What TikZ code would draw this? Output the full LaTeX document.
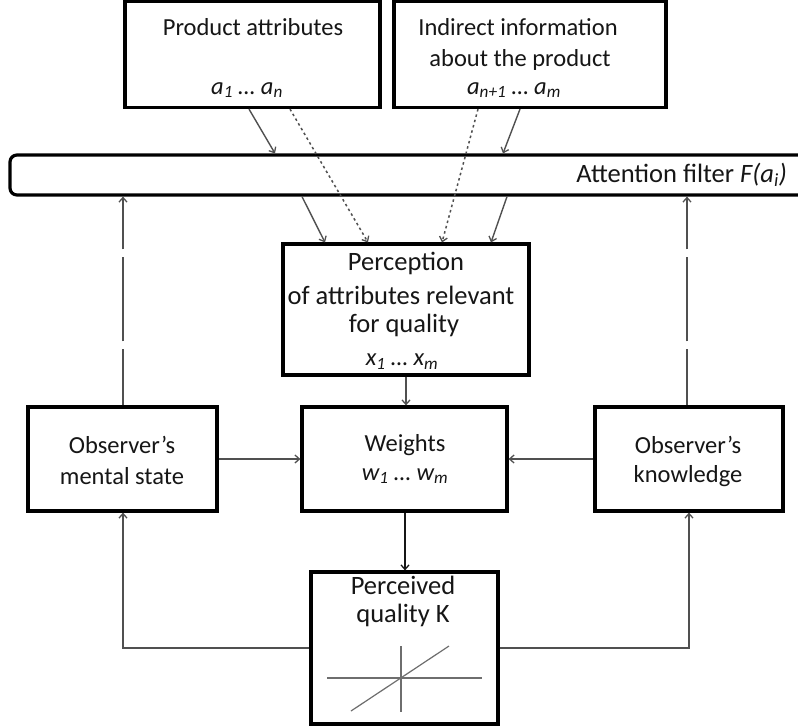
\documentclass[tikz,border=0pt]{standalone}
\usepackage{fontspec}
\setmainfont{Carlito}
\usetikzlibrary{arrows.meta}

\definecolor{wire}{HTML}{505050}
\definecolor{ink}{HTML}{161616}
\definecolor{chart}{HTML}{6E6E6E}

\newcommand{\lowidx}[1]{\textsubscript{#1}}

\begin{document}
\begin{tikzpicture}[x=1pt,y=-1pt,
  box/.style={draw=black, line width=3.2pt, fill=white, inner sep=0pt},
  txt/.style={text=ink, inner sep=0pt, font=\fontsize{24.5}{31}\selectfont},
  bigtxt/.style={txt, font=\fontsize{26.5}{31}\selectfont},
  tip/.style={-{Straight Barb[length=4.5pt,width=8pt,line width=1.3pt]}},
  wireline/.style={draw=wire, line width=1.4pt},
  feed/.style={wireline, tip},
  dotfeed/.style={wireline, tip, line width=1.5pt, dash pattern=on 2.5pt off 3pt},
  longdash/.style={wireline, tip, dash pattern=on 56pt off 8pt on 84pt off 8pt}]

\useasboundingbox (0,0) rectangle (798,726);
\clip (0,0) rectangle (798,726);

% sources of information
\node[box, minimum width=255pt, minimum height=106pt] (prod) at (252.5,54.5) {};
\node[box, minimum width=272pt, minimum height=106pt] (ind) at (530,54.5) {};
\node[txt] (prodT) at (253,27) {Product attributes};
\node[txt] (prodA) at (247,90) {\itshape a\lowidx{1} … a\lowidx{n}};
\node[txt] (indT1) at (518,27) {Indirect information};
\node[txt] (indT2) at (520,60) {about the product};
\node[txt] (indA) at (514,90) {\itshape a\lowidx{n+1} … a\lowidx{m}};

% attention filter (runs past the right edge)
\node[box, rounded corners=7pt, minimum width=830pt, minimum height=40pt] (filter) at (425,175) {};
\node[bigtxt, anchor=east] (filterT) at (787,175) {Attention filter \textit{F(a\lowidx{i})}};

% perception
\node[box, minimum width=246pt, minimum height=131pt] (perc) at (406,309.5) {};
\node[bigtxt] (percT1) at (406,263) {Perception};
\node[bigtxt] (percT2) at (401,295) {of attributes relevant};
\node[bigtxt] (percT3) at (404,325) {for quality};
\node[txt] (percX) at (402,362) {\itshape x\lowidx{1} … x\lowidx{m}};

% middle row
\node[box, minimum width=189pt, minimum height=104pt] (mental) at (122.5,459) {};
\node[txt] (mentalT1) at (122,445) {Observer’s};
\node[txt] (mentalT2) at (122,476) {mental state};

\node[box, minimum width=205pt, minimum height=104pt] (weights) at (404.5,459) {};
\node[txt] (weightsT1) at (405,445) {Weights};
\node[txt] (weightsT2) at (405,476) {\itshape w\lowidx{1} … w\lowidx{m}};

\node[box, minimum width=188pt, minimum height=104pt] (know) at (689,459) {};
\node[txt] (knowT1) at (688,445) {Observer’s};
\node[txt] (knowT2) at (688,476) {knowledge};

% perceived quality
\node[box, minimum width=187pt, minimum height=152pt] (qual) at (404.5,648) {};
\node[bigtxt] (qualT1) at (403,585) {Perceived};
\node[bigtxt] (qualT2) at (403,615) {quality K};

% small chart inside the quality box
\coordinate (chL) at (327,678);
\coordinate (chR) at (482,678);
\coordinate (chT) at (401,646);
\coordinate (chB) at (401,712);
\coordinate (chD1) at (351,711);
\coordinate (chD2) at (449,646);
\draw[chart, line width=1.4pt] (chL) -- (chR);
\draw[chart, line width=1.4pt] (chT) -- (chB);
\draw[chart, line width=1.2pt] (chD1) -- (chD2);

% attributes through the filter
\draw[feed] (prod.south -| 249,0) -- (filter.north -| 275,0);
\draw[feed] (ind.south -| 520,0) -- (filter.north -| 503,0);
\draw[feed] (filter.south -| 302,0) -- (perc.north -| 325,0);
\draw[feed] (filter.south -| 507,0) -- (perc.north -| 491,0);
\draw[dotfeed] (prod.south -| 290,0) -- (perc.north -| 368,0);
\draw[dotfeed] (ind.south -| 478,0) -- (perc.north -| 442,0);

% perception to weights to quality
\draw[feed] (perc.south -| 406,0) -- (weights.north -| 406,0);
\draw[feed, draw=ink, line width=2pt] (weights.south -| 405,0) -- (qual.north -| 405,0);

% observer states into the weights
\draw[feed] (mental.east) -- (weights.west);
\draw[feed] (know.west) -- (weights.east);

% observer states tune the filter
\draw[longdash] (mental.north -| 123,0) -- (filter.south -| 123,0);
\draw[longdash] (know.north -| 687,0) -- (filter.south -| 687,0);

% feedback from perceived quality
\draw[feed] (qual.west) -| (mental.south -| 123,0);
\draw[feed] (qual.east) -| (know.south -| 689,0);

\end{tikzpicture}
\end{document}
